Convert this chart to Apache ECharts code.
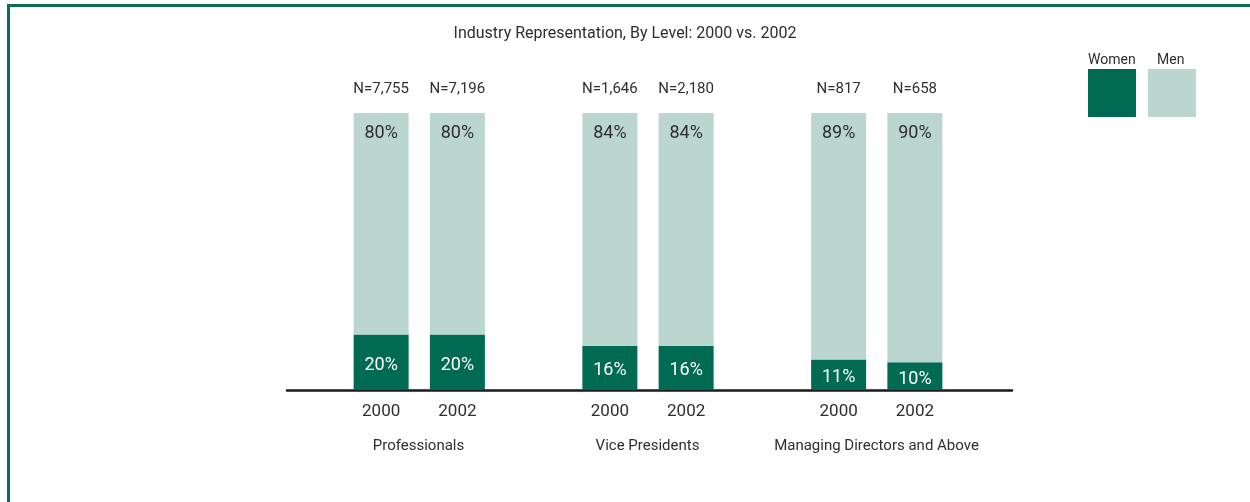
<!DOCTYPE html>
<html>
<head>
<meta charset="utf-8">
<script src="https://cdn.jsdelivr.net/npm/echarts@6/dist/echarts.min.js"></script>
<style>
  body { margin: 0; background: #fff; }
  #main { width: 1250px; height: 502px; }
  .frame {
    position: absolute; left: 7px; top: 4px; width: 1400px; height: 600px;
    border-top: 3px solid #0b6b55; border-left: 3px solid #0b6b55;
    pointer-events: none;
  }
</style>
</head>
<body>
<div id="main"></div>
<div class="frame"></div>
<script>
// 数据
var categories = ['2000', '2002', '', '2000', '2002', '', '2000', '2002']
var women = [20, 20, null, 16, 16, null, 11, 10]
var men = [80, 80, null, 84, 84, null, 89, 90]
var nLabels = ['N=7,755', 'N=7,196', '', 'N=1,646', 'N=2,180', '', 'N=817', 'N=658']
var groups = ['Professionals', 'Vice Presidents', 'Managing Directors and Above']

var darkGreen = '#006b52'
var lightGreen = '#bad6cf'
var txt = '#2e2e2e'
var font = "'Liberation Sans Narrow', Roboto, sans-serif"

var myChart = echarts.init(document.querySelector('#main'))

var option = {
    animation: false,
    textStyle: { fontFamily: font },
    title: {
        text: 'Industry Representation, By Level: 2000 vs. 2002',
        left: 'center',
        top: 21,
        textStyle: { fontFamily: font, fontSize: 16, fontWeight: 'normal', color: txt }
    },
    legend: {
        right: 49,
        top: 64,
        itemWidth: 48,
        itemHeight: 48,
        itemGap: 12,
        icon: 'rect',
        formatter: function () { return '' },
        data: ['Women', 'Men']
    },
    // 图例文字在色块上方
    graphic: [
        { type: 'text', left: 1088, top: 53, style: { text: 'Women', fontFamily: font, fontSize: 14, fill: txt } },
        { type: 'text', left: 1157, top: 53, style: { text: 'Men', fontFamily: font, fontSize: 14, fill: txt } }
    ],
    grid: [
        { left: 343, width: 610, top: 113, height: 277 },
        { left: 287, width: 725, top: 113, height: 277 },
        { left: 304, width: 687, top: 113, height: 277 }
    ],
    xAxis: [
        {
            type: 'category', gridIndex: 0, data: categories,
            axisLine: { show: false }, axisTick: { show: false },
            axisLabel: { interval: 0, margin: 13, fontSize: 17, color: txt, fontFamily: font }
        },
        {
            type: 'category', gridIndex: 0, position: 'top', data: nLabels,
            axisLine: { show: false }, axisTick: { show: false },
            axisLabel: { interval: 0, margin: 16, fontSize: 15, color: txt, fontFamily: font }
        },
        {
            type: 'value', gridIndex: 1, min: 0, max: 1,
            splitLine: { show: false }, axisTick: { show: false }, axisLabel: { show: false },
            axisLine: { show: true, onZero: false, lineStyle: { color: '#1a1a1a', width: 2.5 } }
        },
        {
            type: 'category', gridIndex: 2, data: groups,
            axisLine: { show: false }, axisTick: { show: false },
            axisLabel: { interval: 0, margin: 49, fontSize: 15, color: txt, fontFamily: font }
        }
    ],
    yAxis: [
        { type: 'value', gridIndex: 0, min: 0, max: 100, show: false },
        { type: 'value', gridIndex: 1, min: 0, max: 1, show: false },
        { type: 'value', gridIndex: 2, min: 0, max: 1, show: false }
    ],
    series: [
        {
            name: 'Women', type: 'bar', stack: 'total', data: women,
            xAxisIndex: 0, yAxisIndex: 0, barWidth: 55,
            itemStyle: { color: darkGreen },
            label: {
                show: true, position: 'inside', offset: [0, 3],
                formatter: '{c}%', color: '#ffffff', fontSize: 18, fontFamily: font
            }
        },
        {
            name: 'Men', type: 'bar', stack: 'total', data: men,
            xAxisIndex: 0, yAxisIndex: 0, barWidth: 55,
            itemStyle: { color: lightGreen },
            label: {
                show: true, position: 'insideTop', distance: 11,
                formatter: '{c}%', color: txt, fontSize: 18, fontFamily: font
            }
        }
    ]
}

myChart.setOption(option)
window.addEventListener('resize', function () {
    myChart.resize()
})
</script>
</body>
</html>
